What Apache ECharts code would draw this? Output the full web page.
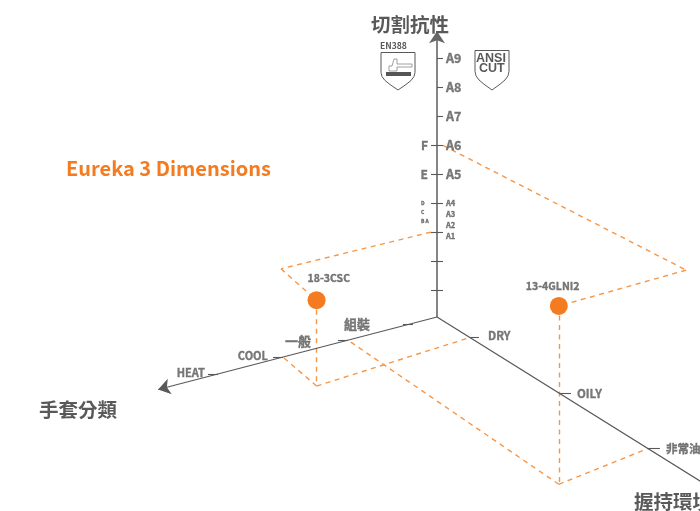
<!DOCTYPE html>
<html><head><meta charset="utf-8">
<style>html,body{margin:0;padding:0;background:#fff;overflow:hidden}#c{width:700px;height:511px}</style>
<script src="https://cdn.jsdelivr.net/npm/echarts@6/dist/echarts.min.js"></script>
</head><body><div id="c"></div>
<script>
// ---- data: values along the three axes ----
const titleText = 'Eureka 3 Dimensions';
const cutAxisName = '切割抗性', handAxisName = '手套分類', gripAxisName = '握持環境';
const handTicks = ['組裝','一般','COOL','HEAT'];        // at 0,1,2,3
const gripTicks = ['DRY','OILY','非常油'];              // at 0,1,2
const cutLevels = [1,2,3,4,5,6,7,8,9];
const cutRightMajor = {5:'A5',6:'A6',7:'A7',8:'A8',9:'A9'};
const cutLeftMajor = {5:'E',6:'F'};
const cutMinorRight = ['A4','A3','A2','A1'];
const cutMinorLeft = ['D','C','B A'];
const gloveNames = ['18-3CSC','13-4GLNI2'];
const gloveHand = [2.14,1.22];
const gloveGrip = [0.11,2.16];
const gloveCut  = [2.97,6.17];
const gloveCutRef = [3,6];       // cut tick each guide starts from
const gloveWallHand = [2.03,-0.37];
const gloveWallGrip = [-0.37,2.43];
const gloveWallCut  = [3.07,7.0];
const gloveHandRef = [2,1];
const gloveGripRef = [0,2];

// ---- oblique projection onto a hidden cartesian scale ----
const O=[437,317], H=[-65,16.9], G=[89,55.5], C=28.9, S=0.37;
const P=(h,g,c)=>[O[0]+(h+S)*H[0]+(g+S)*G[0], O[1]+(h+S)*H[1]+(g+S)*G[1]-c*C];
const hPt=h=>P(h,-S,0), gPt=g=>P(-S,g,0), cPt=c=>shift(P(-S,-S,c),0,c?1.8:0);
function shift(p,dx,dy){return [p[0]+dx,p[1]+dy];}

const INK='#595959', ORANGE='#F47B20', DASH='#F79646';
const FONT='"Noto Sans CJK TC","Noto Sans",sans-serif';

// axes
const axisLines=[
 {coords:[cPt(0),cPt(9.95)],lineStyle:{width:1.6,color:'#666666',opacity:1}},
 {coords:[cPt(0),hPt(3.92)],lineStyle:{width:1.2,color:INK,opacity:1}},
 {coords:[cPt(0),gPt(2.93)],lineStyle:{width:1.2,color:INK,opacity:1}}
];
// ticks
const tickSegs=[];
cutLevels.forEach(c=>{const p=cPt(c);tickSegs.push([c>=7?p:shift(p,-6,0),shift(p,6,0)]);});
handTicks.forEach((_,i)=>{const p=hPt(i);tickSegs.push([shift(p,-10,0.5),shift(p,0,0.5)]);});
gripTicks.forEach((_,i)=>{const p=gPt(i);tickSegs.push([p,shift(p,i?12:9,0)]);});

// dashed guide lines
const guides=[];
gloveNames.forEach((_,i)=>{
 const top=P(gloveHand[i],gloveGrip[i],gloveCut[i]), floor=P(gloveHand[i],gloveGrip[i],0);
 const wall=P(gloveWallHand[i],gloveWallGrip[i],gloveWallCut[i]);
 const ref=cPt(gloveCutRef[i]);
 guides.push([i?shift(ref,6,0):shift(ref,-6,0),wall],[wall,top],[top,floor],[floor,hPt(gloveHandRef[i])],[floor,gPt(gloveGripRef[i])]);
});

// text labels
const labelPts=[];
const lab=(p,t,pos,size,extra)=>labelPts.push({value:p,label:Object.assign({show:true,formatter:t,position:pos,distance:0,fontSize:size,fontWeight:'bold',color:INK,fontFamily:FONT,textBorderColor:INK,textBorderWidth:0.35},extra||{})});
Object.keys(cutRightMajor).forEach(c=>lab(shift(cPt(+c),9,0),cutRightMajor[c],'right',12.5));
Object.keys(cutLeftMajor).forEach(c=>lab(shift(cPt(+c),-9,0),cutLeftMajor[c],'left',12));
cutMinorRight.forEach((t,i)=>lab([446,cPt(4)[1]+i*11],t,'right',7.5));
cutMinorLeft.forEach((t,i)=>lab([421,cPt(4)[1]+i*9],t,'right',5));
const handLabelGap=[33,27,5,3];
handTicks.forEach((t,i)=>lab(shift(hPt(i),-10-handLabelGap[i],i<2?1:-1.5),t,'left',i<2?13:11));
gripTicks.forEach((t,i)=>{const p=gPt(i);lab(shift(p,18,i?0.5:-2),t,'right',11.5);});
gloveNames.forEach((t,i)=>{const p=P(gloveHand[i],gloveGrip[i],gloveCut[i]);lab(shift(p,i?-33:-9,i?-20:-22),t,'right',10.5);});

const gloves=gloveNames.map((n,i)=>P(gloveHand[i],gloveGrip[i],gloveCut[i]));

const shieldPts=[[0,0],[34,0],[34,20],[33,24],[30,28],[25,32],[17,37.5],[9,32],[4,28],[1,24],[0,20]];
const shieldAt=(x,y,h)=>shieldPts.map(p=>[x+p[0],y+p[1]*h/37.5]);
const option={
 animation:false,
 title:{text:titleText,left:66,top:158,padding:0,textStyle:{color:ORANGE,fontSize:20,fontWeight:'bold',fontFamily:FONT}},
 grid:{left:0,right:0,top:0,bottom:0},
 xAxis:{type:'value',min:0,max:700,show:false},
 yAxis:{type:'value',min:0,max:511,inverse:true,show:false},
 graphic:[
  {type:'text',x:371,y:15,style:{text:cutAxisName,font:'bold 19.5px '+FONT,fill:INK},z:10},
  {type:'text',x:39,y:400,style:{text:handAxisName,font:'bold 19.5px '+FONT,fill:INK}},
  {type:'text',x:634,y:492,style:{text:gripAxisName,font:'bold 19.5px '+FONT,fill:INK}},
  {type:'text',x:380,y:41,style:{text:'EN388',font:'bold 8.6px '+FONT,fill:INK}},
  {type:'polygon',shape:{points:shieldAt(381,52.5,37.5)},style:{fill:'#fff',stroke:INK,lineWidth:1}},
  {type:'polygon',shape:{points:[[389,71],[389,66],[392,66],[394,59],[397,59],[397,64],[412,64],[412,67],[397,67],[397,71]]},style:{fill:'#fff',stroke:'#888',lineWidth:0.8}},
  {type:'rect',shape:{x:386,y:72,width:25,height:4},style:{fill:'#555'}},
  {type:'polygon',shape:{points:shieldAt(475,50.5,39.5)},style:{fill:'#fff',stroke:INK,lineWidth:1}},
  {type:'text',x:476,y:52,style:{text:'ANSI',font:'bold 12.5px "Liberation Sans"',fill:INK}},
  {type:'text',x:479,y:62,style:{text:'CUT',font:'bold 12.5px "Liberation Sans"',fill:INK}}
 ],
 series:[
  {type:'lines',coordinateSystem:'cartesian2d',symbol:['none','arrow'],symbolSize:12,silent:true,data:axisLines,z:3},
  {type:'lines',coordinateSystem:'cartesian2d',silent:true,lineStyle:{color:INK,width:1.1,opacity:1},data:tickSegs.map(c=>({coords:c})),z:3},
  {type:'lines',coordinateSystem:'cartesian2d',silent:true,lineStyle:{color:DASH,width:1.4,type:[5,4.5],opacity:1},data:guides.map(c=>({coords:c})),z:2},
  {type:'scatter',symbolSize:18,itemStyle:{color:ORANGE,opacity:1},data:gloves,z:4,silent:true},
  {type:'scatter',symbolSize:0,silent:true,data:labelPts,z:5}
 ]
};
const chart=echarts.init(document.getElementById('c'),null,{renderer:'canvas'});
chart.setOption(option);
</script></body></html>
